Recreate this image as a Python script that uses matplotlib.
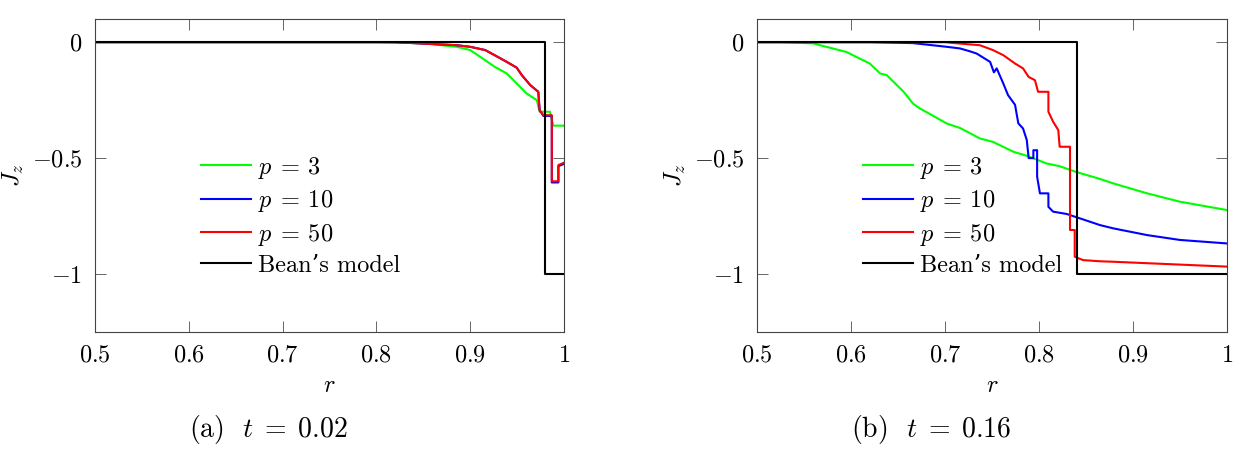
import numpy as np
import matplotlib
matplotlib.use('Agg')
import matplotlib.pyplot as plt
from matplotlib.ticker import FuncFormatter

plt.rcParams['mathtext.fontset'] = 'cm'
plt.rcParams['font.family'] = ['cmr10', 'DejaVu Serif']
plt.rcParams['axes.formatter.use_mathtext'] = True

# ---- (a) t = 0.02 ----
a_p3_r = [0.5, 0.80, 0.85, 0.886, 0.90, 0.916, 0.926, 0.939, 0.9496, 0.960, 0.971, 0.974, 0.985, 0.9885, 1.0]
a_p3_J = [0, 0, -0.005, -0.02, -0.034, -0.078, -0.106, -0.135, -0.178, -0.221, -0.25, -0.30, -0.30, -0.36, -0.36]
a_p10_r = [0.5, 0.82, 0.8856, 0.90, 0.916, 0.926, 0.939, 0.9496, 0.955, 0.964, 0.9726, 0.974, 0.978, 0.987, 0.987, 0.994, 0.994, 1.0]
a_p10_J = [0, 0, -0.013, -0.02, -0.034, -0.056, -0.085, -0.11, -0.142, -0.185, -0.214, -0.293, -0.318, -0.318, -0.605, -0.605, -0.535, -0.525]
a_p50_r = [0.5, 0.82, 0.8856, 0.90, 0.916, 0.926, 0.939, 0.9496, 0.955, 0.964, 0.9726, 0.974, 0.978, 0.987, 0.987, 0.994, 0.994, 1.0]
a_p50_J = [0, 0, -0.013, -0.02, -0.034, -0.056, -0.085, -0.11, -0.142, -0.185, -0.214, -0.293, -0.315, -0.315, -0.60, -0.60, -0.53, -0.52]
a_bean_r = [0.5, 0.98, 0.98, 1.0]
a_bean_J = [0, 0, -1, -1]

# ---- (b) t = 0.16 ----
b_p3_r = [0.5, 0.525, 0.56, 0.567, 0.595, 0.602, 0.62, 0.631, 0.638, 0.656, 0.666, 0.673, 0.702, 0.716,
          0.737, 0.751, 0.773, 0.787, 0.808, 0.822, 0.839, 0.865, 0.879, 0.915, 0.95, 1.0]
b_p3_J = [0, 0, -0.005, -0.013, -0.042, -0.056, -0.092, -0.135, -0.142, -0.214, -0.265, -0.285, -0.351, -0.37,
          -0.415, -0.43, -0.473, -0.49, -0.523, -0.535, -0.559, -0.59, -0.609, -0.652, -0.688, -0.724]
b_p10_r = [0.5, 0.62, 0.666, 0.702, 0.716, 0.727, 0.7337, 0.748, 0.752, 0.755, 0.762, 0.767, 0.7745, 0.778,
           0.783, 0.787, 0.789, 0.794, 0.794, 0.798, 0.798, 0.801, 0.81, 0.81, 0.815, 0.8295, 0.8436, 0.865,
           0.879, 0.915, 0.95, 1.0]
b_p10_J = [0, 0, -0.004, -0.02, -0.027, -0.04, -0.049, -0.085, -0.13, -0.113, -0.178, -0.228, -0.27, -0.35,
           -0.372, -0.422, -0.50, -0.50, -0.466, -0.466, -0.58, -0.652, -0.652, -0.71, -0.731, -0.741, -0.76, -0.789,
           -0.803, -0.832, -0.853, -0.868]
b_p50_r = [0.5, 0.70, 0.716, 0.737, 0.751, 0.762, 0.7745, 0.783, 0.789, 0.7957, 0.799, 0.81, 0.81, 0.815,
           0.8205, 0.822, 0.833, 0.833, 0.838, 0.838, 0.842, 0.847, 0.865, 0.879, 1.0]
b_p50_J = [0, 0, -0.006, -0.013, -0.034, -0.056, -0.092, -0.113, -0.15, -0.164, -0.214, -0.214, -0.30, -0.343,
           -0.379, -0.451, -0.451, -0.81, -0.81, -0.925, -0.932, -0.94, -0.945, -0.947, -0.968]
b_bean_r = [0.5, 0.84, 0.84, 1.0]
b_bean_J = [0, 0, -1, -1]

labels = [r'$p\:=\:3$', r'$p\:=\:10$', r'$p\:=\:50$', 'Bean’s model']
colors = ['#00ff00', '#0000ff', '#ff0000', '#000000']
captions = [r'(a)  $t\;=\;0.02$', r'(b)  $t\;=\;0.16$']
xticks = [0.5, 0.6, 0.7, 0.8, 0.9, 1.0]
yticks = [0, -0.5, -1]

FS = 17.5
fig = plt.figure(figsize=(12.37, 4.55), dpi=100)
ax1 = fig.add_axes([95/1237, 1-332/455, 469/1237, 313/455])
ax2 = fig.add_axes([757/1237, 1-332/455, 470/1237, 313/455])

panels = [
    (ax1, [(a_p3_r, a_p3_J), (a_p10_r, a_p10_J), (a_p50_r, a_p50_J), (a_bean_r, a_bean_J)]),
    (ax2, [(b_p3_r, b_p3_J), (b_p10_r, b_p10_J), (b_p50_r, b_p50_J), (b_bean_r, b_bean_J)]),
]
fmt = FuncFormatter(lambda v, p: f'${v:g}$')
for ax, series in panels:
    for (r, J), c, lab in zip(series, colors, labels):
        ax.plot(r, J, color=c, lw=1.5, label=lab)
    ax.set_xlim(0.5, 1.0)
    ax.set_ylim(-1.25, 0.1)
    ax.set_xticks(xticks); ax.set_yticks(yticks)
    ax.xaxis.set_major_formatter(fmt); ax.yaxis.set_major_formatter(fmt)
    ax.tick_params(direction='in', length=8, width=0.7, color='#666666', top=True, right=True,
                   labelsize=FS, pad=9)
    for s in ax.spines.values():
        s.set_linewidth(0.8); s.set_color('#444444')
    ax.set_xlabel('$r$', fontsize=FS, labelpad=6)
    ax.set_ylabel('$J_z$', fontsize=FS, labelpad=4)
    ax.legend(loc='upper left', bbox_to_anchor=(0.2254, 0.5655), frameon=False, fontsize=FS,
              borderpad=0, borderaxespad=0, handlelength=2.05, handletextpad=0.3, labelspacing=0.3)

fig.text(268/1237, 1-430/455, captions[0], fontsize=20, ha='center', va='center')
fig.text(931/1237, 1-430/455, captions[1], fontsize=20, ha='center', va='center')

fig.savefig('out.png', dpi=100)
